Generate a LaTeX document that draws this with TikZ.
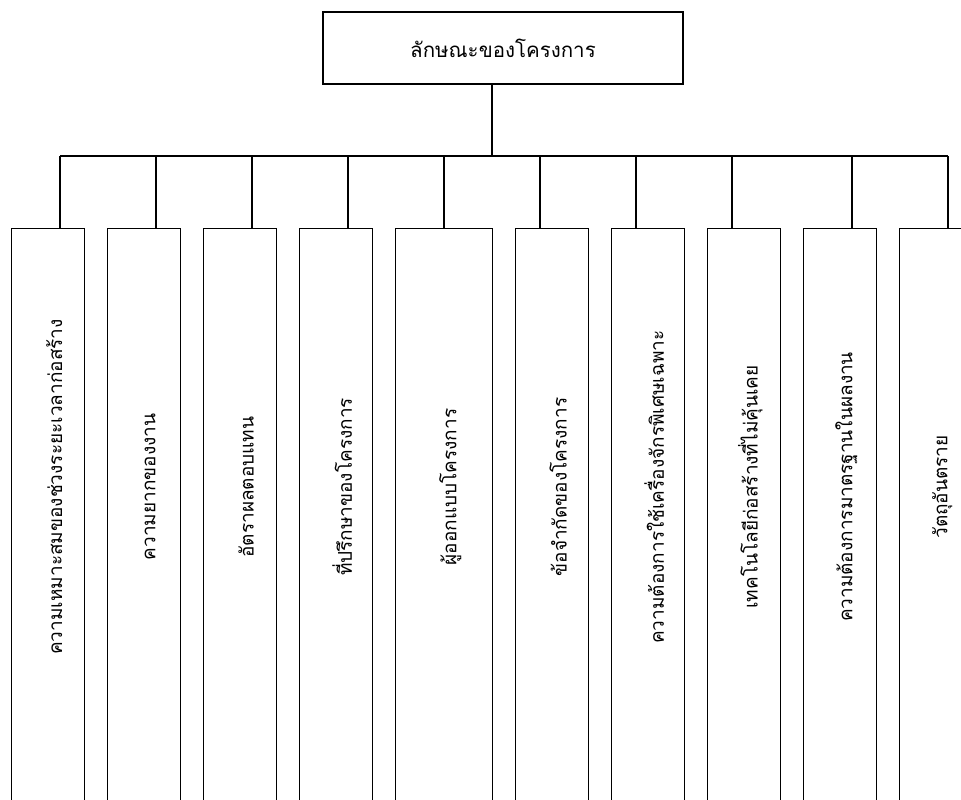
\documentclass[tikz,border=0pt]{standalone}
\usepackage{fontspec}
\newfontfamily\thaifont[Script=Thai]{Loma}
\usetikzlibrary{positioning}

\begin{document}
\begin{tikzpicture}[x=1pt, y=-1pt,
    topbox/.style={draw, line width=1.4pt, minimum width=360pt, minimum height=72pt,
                   inner sep=0pt, font=\thaifont\fontsize{20.5}{24}\selectfont},
    col/.style={draw, line width=1.4pt, minimum width=73pt, minimum height=620pt,
                anchor=north west, inner sep=0pt},
    lbl/.style={rotate=90, inner sep=0pt, font=\thaifont\fontsize{19}{22}\selectfont},
    conn/.style={line width=1.4pt}
  ]
  \useasboundingbox (0,0) rectangle (961,800);
  \clip (0,0) rectangle (961,800);

  \node[topbox] (top) at (503,48) {ลักษณะของโครงการ};

  % columns
  \node[col] (b1) at (11,228) {};
  \node[col, right=21.6pt of b1] (b2) {};
  \node[col, right=21.6pt of b2] (b3) {};
  \node[col, right=21.6pt of b3] (b4) {};
  \node[col, minimum width=97pt, right=21.6pt of b4] (b5) {};
  \node[col, right=21.6pt of b5] (b6) {};
  \node[col, right=21.6pt of b6] (b7) {};
  \node[col, right=21.6pt of b7] (b8) {};
  \node[col, right=21.6pt of b8] (b9) {};
  \node[col, right=21.6pt of b9] (b10) {};

  \node[lbl] (t1) at ([xshift=6pt, yshift=-259pt]b1.north) {ความเหมาะสมของช่วงระยะเวลาก่อสร้าง};
  \node[lbl] (t2) at ([xshift=6pt, yshift=-259pt]b2.north) {ความยากของงาน};
  \node[lbl] (t3) at ([xshift=6pt, yshift=-259pt]b3.north) {อัตราผลตอบแทน};
  \node[lbl] (t4) at ([xshift=6pt, yshift=-259pt]b4.north) {ที่ปรึกษาของโครงการ};
  \node[lbl] (t5) at ([xshift=6pt, yshift=-259pt]b5.north) {ผู้ออกแบบโครงการ};
  \node[lbl] (t6) at ([xshift=6pt, yshift=-259pt]b6.north) {ข้อจำกัดของโครงการ};
  \node[lbl] (t7) at ([xshift=6pt, yshift=-259pt]b7.north) {ความต้องการใช้เครื่องจักรพิเศษเฉพาะ};
  \node[lbl] (t8) at ([xshift=6pt, yshift=-259pt]b8.north) {เทคโนโลยีก่อสร้างที่ไม่คุ้นเคย};
  \node[lbl] (t9) at ([xshift=6pt, yshift=-259pt]b9.north) {ความต้องการมาตรฐานในผลงาน};
  \node[lbl] (t10) at ([xshift=6pt, yshift=-259pt]b10.north) {วัตถุอันตราย};

  % tree lines
  \coordinate (hub) at (492,156);
  \foreach \i/\x in {1/60, 2/156, 3/252, 4/348, 5/444, 6/540, 7/636, 8/732, 9/852, 10/948}
    \coordinate (j\i) at (\x,156);
  \draw[conn] (j1) -- (j10);
  \draw[conn] (top.south -| hub) -- (hub);
  \foreach \i in {1,...,10}
    \draw[conn] (j\i) -- (j\i |- b\i.north);
\end{tikzpicture}
\end{document}
